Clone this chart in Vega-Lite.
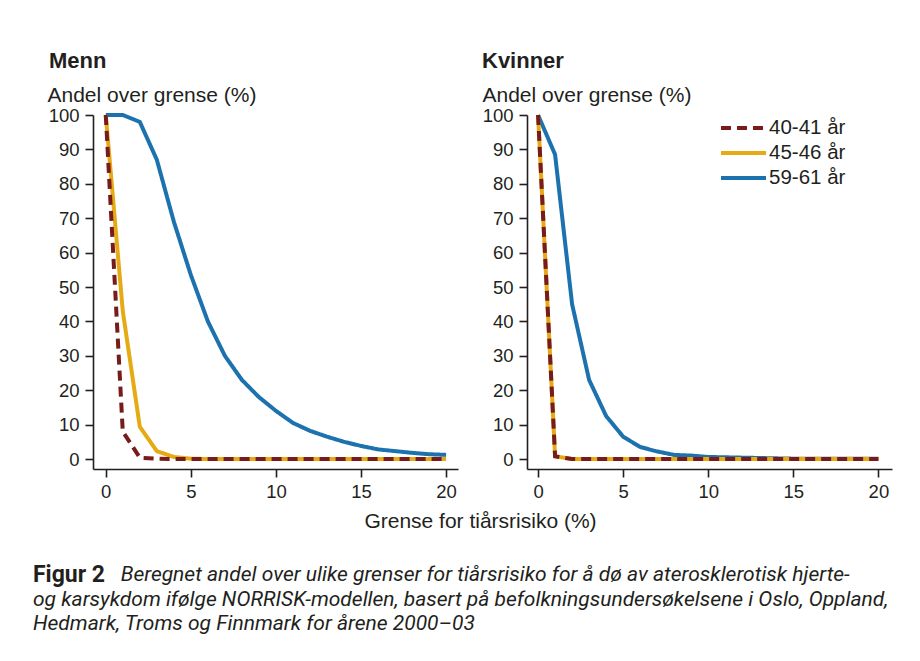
{
 "$schema": "https://vega.github.io/schema/vega-lite/v6.json",
 "background": "white",
 "padding": {"left": 33, "top": 50, "right": 20, "bottom": 20},
 "config": {
  "view": {"stroke": null},
  "font": "Liberation Sans",
  "axis": {"domainColor": "#231f20", "domainWidth": 1.6, "tickColor": "#231f20", "tickWidth": 1.6, "tickSize": 8, "labelFont": "Liberation Sans", "labelFontSize": 18.5, "labelColor": "#231f20", "grid": false, "titleFont": "Liberation Sans", "titleFontSize": 21, "titleFontWeight": "normal", "titleColor": "#231f20"}
 },
 "title": {
  "text": "Figur 2",
  "subtitle": ["\u200b\u00a0\u00a0\u00a0\u00a0\u00a0\u00a0\u00a0\u00a0\u00a0\u00a0\u00a0\u00a0\u00a0\u00a0\u00a0\u00a0\u00a0Beregnet andel over ulike grenser for tiårsrisiko for å dø av aterosklerotisk hjerte-", "og karsykdom ifølge NORRISK-modellen, basert på befolkningsundersøkelsene i Oslo, Oppland,", "Hedmark, Troms og Finnmark for årene 2000–03"],
  "orient": "bottom", "anchor": "start", "frame": "bounds",
  "font": "Roboto", "fontSize": 23, "fontWeight": "bold", "color": "#231f20",
  "subtitleFont": "Roboto", "subtitleFontStyle": "italic", "subtitleFontSize": 21, "subtitleColor": "#231f20", "subtitleLineHeight": 24.5, "subtitlePadding": -23,
  "offset": 33, "dx": -14
 },
 "data": {"values": [
  {"p":"Menn","s":"59-61 år","x":0,"y":100},{"p":"Menn","s":"59-61 år","x":1,"y":100},{"p":"Menn","s":"59-61 år","x":2,"y":98},{"p":"Menn","s":"59-61 år","x":3,"y":87},{"p":"Menn","s":"59-61 år","x":4,"y":69},{"p":"Menn","s":"59-61 år","x":5,"y":53.5},{"p":"Menn","s":"59-61 år","x":6,"y":40},{"p":"Menn","s":"59-61 år","x":7,"y":30},{"p":"Menn","s":"59-61 år","x":8,"y":23},{"p":"Menn","s":"59-61 år","x":9,"y":18},{"p":"Menn","s":"59-61 år","x":10,"y":14},{"p":"Menn","s":"59-61 år","x":11,"y":10.5},{"p":"Menn","s":"59-61 år","x":12,"y":8.2},{"p":"Menn","s":"59-61 år","x":13,"y":6.5},{"p":"Menn","s":"59-61 år","x":14,"y":5},{"p":"Menn","s":"59-61 år","x":15,"y":3.8},{"p":"Menn","s":"59-61 år","x":16,"y":2.8},{"p":"Menn","s":"59-61 år","x":17,"y":2.3},{"p":"Menn","s":"59-61 år","x":18,"y":1.8},{"p":"Menn","s":"59-61 år","x":19,"y":1.4},{"p":"Menn","s":"59-61 år","x":20,"y":1.2},
  {"p":"Menn","s":"45-46 år","x":0,"y":100},{"p":"Menn","s":"45-46 år","x":1,"y":43},{"p":"Menn","s":"45-46 år","x":2,"y":9.4},{"p":"Menn","s":"45-46 år","x":3,"y":2.3},{"p":"Menn","s":"45-46 år","x":4,"y":0.6},{"p":"Menn","s":"45-46 år","x":5,"y":0.1},{"p":"Menn","s":"45-46 år","x":6,"y":0},{"p":"Menn","s":"45-46 år","x":7,"y":0},{"p":"Menn","s":"45-46 år","x":8,"y":0},{"p":"Menn","s":"45-46 år","x":9,"y":0},{"p":"Menn","s":"45-46 år","x":10,"y":0},{"p":"Menn","s":"45-46 år","x":11,"y":0},{"p":"Menn","s":"45-46 år","x":12,"y":0},{"p":"Menn","s":"45-46 år","x":13,"y":0},{"p":"Menn","s":"45-46 år","x":14,"y":0},{"p":"Menn","s":"45-46 år","x":15,"y":0},{"p":"Menn","s":"45-46 år","x":16,"y":0},{"p":"Menn","s":"45-46 år","x":17,"y":0},{"p":"Menn","s":"45-46 år","x":18,"y":0},{"p":"Menn","s":"45-46 år","x":19,"y":0},{"p":"Menn","s":"45-46 år","x":20,"y":0},
  {"p":"Menn","s":"40-41 år","x":0,"y":100},{"p":"Menn","s":"40-41 år","x":1,"y":8},{"p":"Menn","s":"40-41 år","x":2,"y":0.4},{"p":"Menn","s":"40-41 år","x":3,"y":0.1},{"p":"Menn","s":"40-41 år","x":4,"y":0},{"p":"Menn","s":"40-41 år","x":5,"y":0},{"p":"Menn","s":"40-41 år","x":6,"y":0},{"p":"Menn","s":"40-41 år","x":7,"y":0},{"p":"Menn","s":"40-41 år","x":8,"y":0},{"p":"Menn","s":"40-41 år","x":9,"y":0},{"p":"Menn","s":"40-41 år","x":10,"y":0},{"p":"Menn","s":"40-41 år","x":11,"y":0},{"p":"Menn","s":"40-41 år","x":12,"y":0},{"p":"Menn","s":"40-41 år","x":13,"y":0},{"p":"Menn","s":"40-41 år","x":14,"y":0},{"p":"Menn","s":"40-41 år","x":15,"y":0},{"p":"Menn","s":"40-41 år","x":16,"y":0},{"p":"Menn","s":"40-41 år","x":17,"y":0},{"p":"Menn","s":"40-41 år","x":18,"y":0},{"p":"Menn","s":"40-41 år","x":19,"y":0},{"p":"Menn","s":"40-41 år","x":20,"y":0},
  {"p":"Kvinner","s":"59-61 år","x":0,"y":100},{"p":"Kvinner","s":"59-61 år","x":1,"y":88.5},{"p":"Kvinner","s":"59-61 år","x":2,"y":45},{"p":"Kvinner","s":"59-61 år","x":3,"y":23},{"p":"Kvinner","s":"59-61 år","x":4,"y":12.5},{"p":"Kvinner","s":"59-61 år","x":5,"y":6.5},{"p":"Kvinner","s":"59-61 år","x":6,"y":3.5},{"p":"Kvinner","s":"59-61 år","x":7,"y":2.2},{"p":"Kvinner","s":"59-61 år","x":8,"y":1.2},{"p":"Kvinner","s":"59-61 år","x":9,"y":1},{"p":"Kvinner","s":"59-61 år","x":10,"y":0.6},{"p":"Kvinner","s":"59-61 år","x":11,"y":0.5},{"p":"Kvinner","s":"59-61 år","x":12,"y":0.4},{"p":"Kvinner","s":"59-61 år","x":13,"y":0.3},{"p":"Kvinner","s":"59-61 år","x":14,"y":0.2},{"p":"Kvinner","s":"59-61 år","x":15,"y":0.1},{"p":"Kvinner","s":"59-61 år","x":16,"y":0.1},{"p":"Kvinner","s":"59-61 år","x":17,"y":0.1},{"p":"Kvinner","s":"59-61 år","x":18,"y":0.1},{"p":"Kvinner","s":"59-61 år","x":19,"y":0.1},{"p":"Kvinner","s":"59-61 år","x":20,"y":0.1},
  {"p":"Kvinner","s":"45-46 år","x":0,"y":100},{"p":"Kvinner","s":"45-46 år","x":1,"y":0.8},{"p":"Kvinner","s":"45-46 år","x":2,"y":0},{"p":"Kvinner","s":"45-46 år","x":3,"y":0},{"p":"Kvinner","s":"45-46 år","x":4,"y":0},{"p":"Kvinner","s":"45-46 år","x":5,"y":0},{"p":"Kvinner","s":"45-46 år","x":6,"y":0},{"p":"Kvinner","s":"45-46 år","x":7,"y":0},{"p":"Kvinner","s":"45-46 år","x":8,"y":0},{"p":"Kvinner","s":"45-46 år","x":9,"y":0},{"p":"Kvinner","s":"45-46 år","x":10,"y":0},{"p":"Kvinner","s":"45-46 år","x":11,"y":0},{"p":"Kvinner","s":"45-46 år","x":12,"y":0},{"p":"Kvinner","s":"45-46 år","x":13,"y":0},{"p":"Kvinner","s":"45-46 år","x":14,"y":0},{"p":"Kvinner","s":"45-46 år","x":15,"y":0},{"p":"Kvinner","s":"45-46 år","x":16,"y":0},{"p":"Kvinner","s":"45-46 år","x":17,"y":0},{"p":"Kvinner","s":"45-46 år","x":18,"y":0},{"p":"Kvinner","s":"45-46 år","x":19,"y":0},{"p":"Kvinner","s":"45-46 år","x":20,"y":0},
  {"p":"Kvinner","s":"40-41 år","x":0,"y":100},{"p":"Kvinner","s":"40-41 år","x":1,"y":0.8},{"p":"Kvinner","s":"40-41 år","x":2,"y":0},{"p":"Kvinner","s":"40-41 år","x":3,"y":0},{"p":"Kvinner","s":"40-41 år","x":4,"y":0},{"p":"Kvinner","s":"40-41 år","x":5,"y":0},{"p":"Kvinner","s":"40-41 år","x":6,"y":0},{"p":"Kvinner","s":"40-41 år","x":7,"y":0},{"p":"Kvinner","s":"40-41 år","x":8,"y":0},{"p":"Kvinner","s":"40-41 år","x":9,"y":0},{"p":"Kvinner","s":"40-41 år","x":10,"y":0},{"p":"Kvinner","s":"40-41 år","x":11,"y":0},{"p":"Kvinner","s":"40-41 år","x":12,"y":0},{"p":"Kvinner","s":"40-41 år","x":13,"y":0},{"p":"Kvinner","s":"40-41 år","x":14,"y":0},{"p":"Kvinner","s":"40-41 år","x":15,"y":0},{"p":"Kvinner","s":"40-41 år","x":16,"y":0},{"p":"Kvinner","s":"40-41 år","x":17,"y":0},{"p":"Kvinner","s":"40-41 år","x":18,"y":0},{"p":"Kvinner","s":"40-41 år","x":19,"y":0},{"p":"Kvinner","s":"40-41 år","x":20,"y":0}
 ]},
 "spacing": 69,
 "bounds": "flush",
 "resolve": {"scale": {"color": "independent", "strokeDash": "independent"}},
 "hconcat": [
  {
   "width": 365, "height": 354,
   "title": {"text": "Menn", "anchor": "start", "frame": "group", "fontSize": 22, "fontWeight": "bold", "font": "Liberation Sans", "color": "#231f20", "dx": -44, "offset": 11},
   "transform": [{"filter": "datum.p === 'Menn'"}],
   "encoding": {
    "x": {"field": "x", "type": "quantitative", "scale": {"domain": [-0.75, 20.7], "nice": false, "zero": false}, "axis": {"values": [0, 5, 10, 15, 20], "title": "Grense for tiårsrisiko (%)", "titleX": 387, "titleY": 58, "titleAlign": "center", "titleBaseline": "alphabetic", "labelPadding": 5}},
    "y": {"field": "y", "type": "quantitative", "scale": {"domain": [-2.9, 100], "nice": false}, "axis": {"values": [0, 10, 20, 30, 40, 50, 60, 70, 80, 90, 100], "title": "Andel over grense (%)", "titleAngle": 0, "titleAlign": "left", "titleBaseline": "alphabetic", "titleX": -46, "titleY": -14, "labelPadding": 6}},
    "color": {"field": "s", "type": "nominal", "scale": {"domain": ["40-41 år", "45-46 år", "59-61 år"], "range": ["#771b1b", "#e6ab14", "#1c72ae"]}, "legend": null},
    "strokeDash": {"field": "s", "type": "nominal", "scale": {"domain": ["40-41 år", "45-46 år", "59-61 år"], "range": [[10, 6], [1, 0], [1, 0]]}, "legend": null}
   },
   "layer": [
    {"transform": [{"filter": "datum.s === '59-61 år'"}], "mark": {"type": "line", "strokeWidth": 4}},
    {"transform": [{"filter": "datum.s === '45-46 år'"}], "mark": {"type": "line", "strokeWidth": 4}},
    {"transform": [{"filter": "datum.s === '40-41 år'"}], "mark": {"type": "line", "strokeWidth": 4}}
   ]
  },
  {
   "width": 365, "height": 354,
   "title": {"text": "Kvinner", "anchor": "start", "frame": "group", "fontSize": 22, "fontWeight": "bold", "font": "Liberation Sans", "color": "#231f20", "dx": -45, "offset": 11},
   "transform": [{"filter": "datum.p === 'Kvinner'"}],
   "encoding": {
    "x": {"field": "x", "type": "quantitative", "scale": {"domain": [-0.65, 20.8], "nice": false, "zero": false}, "axis": {"values": [0, 5, 10, 15, 20], "title": null, "labelPadding": 5}},
    "y": {"field": "y", "type": "quantitative", "scale": {"domain": [-2.9, 100], "nice": false}, "axis": {"values": [0, 10, 20, 30, 40, 50, 60, 70, 80, 90, 100], "title": "Andel over grense (%)", "titleAngle": 0, "titleAlign": "left", "titleBaseline": "alphabetic", "titleX": -45, "titleY": -14, "labelPadding": 6}},
    "color": {"field": "s", "type": "nominal", "scale": {"domain": ["40-41 år", "45-46 år", "59-61 år"], "range": ["#771b1b", "#e6ab14", "#1c72ae"]}, "legend": {"orient": "none", "legendX": 192, "legendY": 2, "title": null, "symbolType": "stroke", "symbolSize": 2025, "symbolStrokeWidth": 4, "labelFontSize": 20.5, "labelFont": "Liberation Sans", "labelColor": "#231f20", "labelOffset": 1, "clipHeight": 22, "rowPadding": 3}},
    "strokeDash": {"field": "s", "type": "nominal", "scale": {"domain": ["40-41 år", "45-46 år", "59-61 år"], "range": [[10, 6], [1, 0], [1, 0]]}, "legend": {"orient": "none", "legendX": 192, "legendY": 2, "title": null, "symbolType": "stroke", "symbolSize": 2025, "symbolStrokeWidth": 4, "labelFontSize": 20.5, "labelFont": "Liberation Sans", "labelColor": "#231f20", "labelOffset": 1, "clipHeight": 22, "rowPadding": 3}}
   },
   "layer": [
    {"transform": [{"filter": "datum.s === '59-61 år'"}], "mark": {"type": "line", "strokeWidth": 4}},
    {"transform": [{"filter": "datum.s === '45-46 år'"}], "mark": {"type": "line", "strokeWidth": 4}},
    {"transform": [{"filter": "datum.s === '40-41 år'"}], "mark": {"type": "line", "strokeWidth": 4}}
   ]
  }
 ]
}
